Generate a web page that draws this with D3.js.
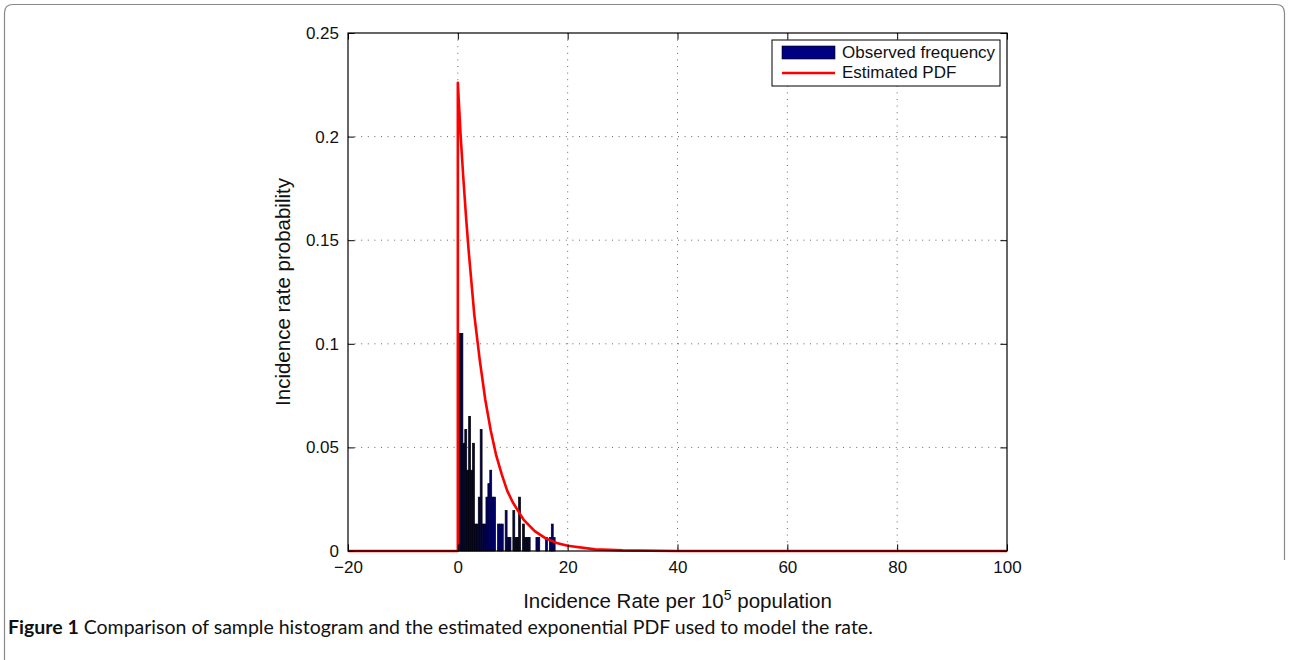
<!DOCTYPE html>
<html>
<head>
<meta charset="utf-8">
<script src="https://cdn.jsdelivr.net/npm/d3@7"></script>
<style>
  body { margin: 0; background: #fff; }
  svg { display: block; }
</style>
</head>
<body>
<svg id="viz" width="1289" height="660"></svg>
<script>
// histogram bins (left edge), width binWidth, probability per bin
let binWidth = 0.35
let binStart = [0.22, 0.57, 0.92, 1.27, 1.62, 1.97, 2.32, 2.67, 3.02, 3.37,
                3.72, 4.07, 4.42, 4.77, 5.12, 5.47, 5.82, 6.17, 6.52, 6.87,
                7.22, 7.57, 7.92, 8.27, 8.62, 8.97, 9.32, 9.67, 10.02, 10.37,
                10.72, 11.07, 11.42, 11.77, 12.12, 12.47, 12.82, 13.17, 13.52, 13.87,
                14.22, 14.57, 14.92, 15.27, 15.62, 15.97, 16.32, 16.67, 17.02, 17.37]
let binProb = [0.105, 0.105, 0.052, 0.0587, 0.039, 0.065, 0.039, 0.052, 0.013, 0.013,
               0.026, 0.0587, 0.013, 0.013, 0.026, 0.0325, 0.039, 0.026, 0.026, 0,
               0.013, 0.013, 0.013, 0, 0.0195, 0.0065, 0.0065, 0, 0.0195, 0.0065,
               0.0065, 0.026, 0, 0.013, 0.0065, 0.0065, 0.0065, 0, 0, 0,
               0.0065, 0.0065, 0, 0, 0, 0.0065, 0, 0.0065, 0.013, 0.0065]

// estimated PDF
let pdfX = [-20, 0, 0, 0.5, 1, 1.5, 2, 3, 4, 5, 6, 7, 8, 9, 10, 12, 14, 16, 18, 20, 25, 30, 40, 100]
let pdfY = [0, 0, 0.226, 0.201, 0.180, 0.161, 0.144, 0.114, 0.092, 0.073, 0.058, 0.046, 0.037,
            0.029, 0.0235, 0.015, 0.0096, 0.0061, 0.0039, 0.0025, 0.0008, 0.0003, 0, 0]

let xTicks = [-20, 0, 20, 40, 60, 80, 100]
let yTicks = [0, 0.05, 0.1, 0.15, 0.2, 0.25]
let yTickLabels = ["0", "0.05", "0.1", "0.15", "0.2", "0.25"]
let legendNames = ["Observed frequency", "Estimated PDF"]

let pLeft = 348, pRight = 1007, pTop = 33, pBottom = 551
let tickLen = 6.6
let font = "'Liberation Sans', Arial, Helvetica, sans-serif"
let viz = d3.select("#viz")

let x = d3.scaleLinear().domain([-20, 100]).range([pLeft, pRight])
let y = d3.scaleLinear().domain([0, 0.25]).range([pBottom, pTop])

// frame round the figure
viz.append("path")
    .attr("d", "M4.5,660 L4.5,13 Q4.5,4.5 13,4.5 L1276,4.5 Q1284.5,4.5 1284.5,13 L1284.5,560")
    .style("fill", "none")
    .style("stroke", "#888")
    .style("stroke-width", 1.2)

// grid
let grid = viz.append("g").attr("id", "grid")
grid.selectAll("line.gx")
    .data(xTicks.slice(1, -1))
    .enter().append("line")
    .attr("x1", d => x(d)).attr("x2", d => x(d))
    .attr("y1", pTop).attr("y2", pBottom)
grid.selectAll("line.gy")
    .data(yTicks.slice(1, -1))
    .enter().append("line")
    .attr("x1", pLeft).attr("x2", pRight)
    .attr("y1", d => y(d)).attr("y2", d => y(d))
grid.selectAll("line")
    .style("stroke", "#666")
    .style("stroke-width", 1)
    .style("stroke-dasharray", "1,5.6")

// bars
viz.append("g").attr("id", "bars")
    .selectAll("rect")
    .data(binStart.map((s, i) => ({s: s, p: binProb[i]})).filter(d => d.p > 0))
    .enter().append("rect")
    .attr("x", d => x(d.s))
    .attr("width", d => x(d.s + binWidth) - x(d.s))
    .attr("y", d => y(d.p))
    .attr("height", d => y(0) - y(d.p))
    .style("fill", "#00006a")
    .style("stroke", "#000")
    .style("stroke-width", 0.7)

// pdf curve
let line = d3.line().x(d => x(d[0])).y(d => y(d[1]))
viz.append("path")
    .datum(pdfX.map((v, i) => [v, pdfY[i]]))
    .attr("d", line)
    .style("fill", "none")
    .style("stroke", "#ff0000")
    .style("stroke-width", 2.6)
    .style("stroke-linejoin", "round")

// axes
let axB = viz.append("g").attr("transform", `translate(0,${pBottom})`)
    .call(d3.axisBottom(x).tickValues(xTicks).tickSize(-tickLen).tickPadding(10)
        .tickFormat(d => d < 0 ? "\u2212" + Math.abs(d) : d))
let axT = viz.append("g").attr("transform", `translate(0,${pTop})`)
    .call(d3.axisTop(x).tickValues(xTicks).tickSize(-tickLen).tickFormat(""))
let axL = viz.append("g").attr("transform", `translate(${pLeft},0)`)
    .call(d3.axisLeft(y).tickValues(yTicks).tickSize(-tickLen).tickPadding(9)
        .tickFormat((d, i) => yTickLabels[i]))
let axR = viz.append("g").attr("transform", `translate(${pRight},0)`)
    .call(d3.axisRight(y).tickValues(yTicks).tickSize(-tickLen).tickFormat(""))

;[axB, axT, axL, axR].forEach(a => {
    a.select(".domain").remove()
    a.selectAll(".tick line").style("stroke", "#000").style("stroke-width", 1)
    a.selectAll("text").style("font-family", font).style("font-size", "17px").style("fill", "#111")
})

viz.append("rect")
    .attr("x", pLeft).attr("y", pTop)
    .attr("width", pRight - pLeft).attr("height", pBottom - pTop)
    .style("fill", "none").style("stroke", "#000").style("stroke-width", 1.2)

// axis titles
viz.append("text")
    .attr("transform", `translate(290,${(pTop + pBottom) / 2}) rotate(-90)`)
    .attr("text-anchor", "middle")
    .style("font-family", font).style("font-size", "20.5px").style("fill", "#111")
    .text("Incidence rate probability")

let xt = viz.append("text")
    .attr("x", (pLeft + pRight) / 2).attr("y", 608)
    .attr("text-anchor", "middle")
    .style("font-family", font).style("font-size", "20.5px").style("fill", "#111")
xt.append("tspan").text("Incidence Rate per 10")
xt.append("tspan").attr("dy", -8).style("font-size", "14px").text("5")
xt.append("tspan").attr("dy", 8).text(" population")

// legend
let lg = viz.append("g").attr("id", "legend")
lg.append("rect")
    .attr("x", 772).attr("y", 40).attr("width", 228).attr("height", 46)
    .style("fill", "#fff").style("stroke", "#000").style("stroke-width", 1)
lg.append("rect")
    .attr("x", 782).attr("y", 46).attr("width", 53).attr("height", 13)
    .style("fill", "#000080").style("stroke", "#000").style("stroke-width", 0.6)
lg.append("line")
    .attr("x1", 782).attr("x2", 835).attr("y1", 73).attr("y2", 73)
    .style("stroke", "#ff0000").style("stroke-width", 2.6)
lg.selectAll("text")
    .data(legendNames)
    .enter().append("text")
    .attr("x", 842)
    .attr("y", (d, i) => 58 + i * 20)
    .style("font-family", font).style("font-size", "17px").style("fill", "#111")
    .text(d => d)

// caption
let cap = viz.append("text")
    .attr("x", 8).attr("y", 634)
    .style("font-family", "Lato, 'Open Sans', sans-serif").style("font-size", "19.5px").style("fill", "#111")
cap.append("tspan").style("font-weight", "bold").text("Figure 1")
cap.append("tspan").text(" Comparison of sample histogram and the estimated exponential PDF used to model the rate.")
</script>
</body>
</html>
